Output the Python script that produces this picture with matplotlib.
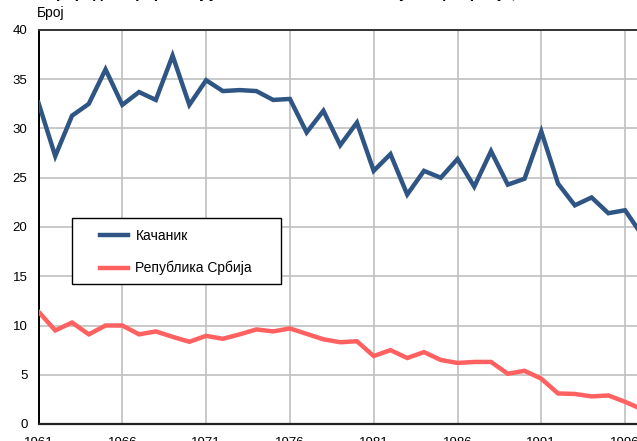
import matplotlib.pyplot as plt
from matplotlib.patches import Rectangle

plt.rcParams['font.family'] = ['Liberation Sans', 'DejaVu Sans']

# Years visible in the reference (the picture is cut off on the right)
years = list(range(1961, 1998))

# Kačanik
kacanik = [32.6, 27.2, 31.3, 32.5, 36.0, 32.4, 33.7, 32.9, 37.4, 32.4,
           34.9, 33.8, 33.9, 33.8, 32.9, 33.0, 29.6, 31.8, 28.3, 30.6,
           25.7, 27.4, 23.3, 25.7, 25.0, 26.9, 24.1, 27.7, 24.3, 24.9,
           29.7, 24.4, 22.2, 23.0, 21.4, 21.7, 19.2]

# Republika Srbija
srbija = [11.4, 9.5, 10.3, 9.1, 10.0, 10.0, 9.1, 9.4, 8.85, 8.35,
          8.95, 8.65, 9.1, 9.6, 9.4, 9.7, 9.15, 8.6, 8.3, 8.4,
          6.9, 7.5, 6.7, 7.3, 6.5, 6.2, 6.3, 6.3, 5.1, 5.4,
          4.6, 3.1, 3.05, 2.8, 2.9, 2.25, 1.5]

W, H = 637, 441
fig = plt.figure(figsize=(W / 100, H / 100), dpi=100)

# axes run past the right edge of the figure, like the cropped original
x0, y0, y1 = 38.5, 424, 30
px_per_year = 16.76
x_lo, x_hi = 1961, 2011
ax = fig.add_axes([x0 / W, (H - y0) / H,
                   (x_hi - x_lo) * px_per_year / W, (y0 - y1) / H])

ax.plot(years, kacanik, color='#2e5583', lw=3.2, label='Качаник',
        solid_joinstyle='miter', zorder=3)
ax.plot(years, srbija, color='#ff6060', lw=3.2, label='Република Србија',
        solid_joinstyle='miter', zorder=3)

ax.set_xlim(x_lo, x_hi)
ax.set_ylim(0, 40)
ax.set_xticks(range(1961, 2012, 5))
ax.set_yticks(range(0, 41, 5))
ax.grid(True, color='#c0c0c0', lw=1.2)
ax.set_axisbelow(True)
ax.tick_params(length=0, labelsize=9.5, colors='black')
ax.tick_params(axis='y', pad=8)
ax.tick_params(axis='x', pad=9)

ax.spines['left'].set_color('black')
ax.spines['left'].set_linewidth(1.4)
ax.spines['bottom'].set_color('#222222')
ax.spines['bottom'].set_linewidth(1.6)
ax.spines['top'].set_color('#333333')
ax.spines['top'].set_linewidth(1.4)

# y-axis unit label and the (mostly cut off) title
fig.text(37 / W, 1 - 13 / H, 'Број', fontsize=10, va='center', ha='left')
fig.text(45 / W, 1 + 6.5 / H, 'Природни прираштај у општини Качаник и Републици Србији, 1961-2010',
         fontsize=11, fontweight='bold', va='center', ha='left')

# legend box drawn as a plain rectangle, legend entries placed inside it
box = Rectangle((72 / W, 1 - 284 / H), (281 - 72) / W, (284 - 218) / H,
                transform=fig.transFigure, facecolor='white',
                edgecolor='black', lw=1.0, zorder=5, clip_on=False)
ax.add_patch(box)
leg = ax.legend(loc='upper left', bbox_to_anchor=(100 / W, 1 - 229 / H),
                bbox_transform=fig.transFigure, frameon=False,
                fontsize=10, handlelength=2.0, handletextpad=0.55,
                labelspacing=1.3, borderaxespad=0, borderpad=0)
leg.set_zorder(6)

fig.savefig('out.png', dpi=100)
